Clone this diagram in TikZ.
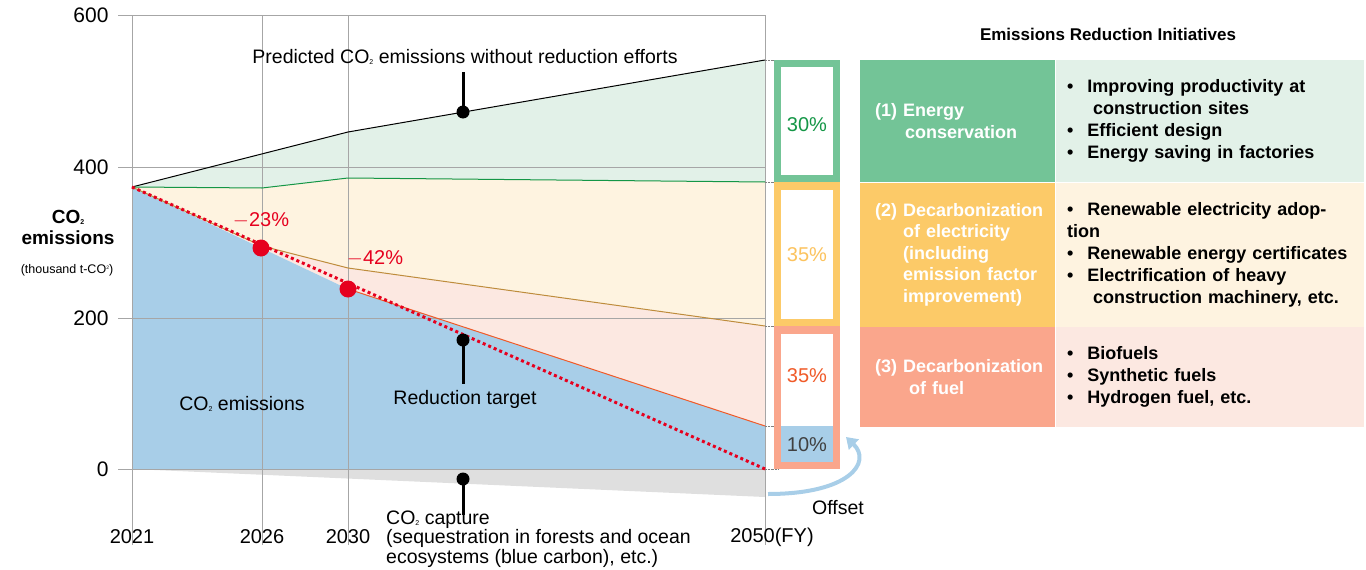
\documentclass[tikz,border=0pt]{standalone}
\usepackage{fontspec}
\setmainfont{Liberation Sans}
\usetikzlibrary{arrows.meta, positioning, calc}
\definecolor{kgreen}{RGB}{115,196,151}
\definecolor{kgreenlt}{RGB}{226,241,232}
\definecolor{kyellow}{RGB}{252,202,104}
\definecolor{kyellowlt}{RGB}{254,243,224}
\definecolor{korange}{RGB}{250,166,140}
\definecolor{korangelt}{RGB}{252,232,225}
\definecolor{kblue}{RGB}{168,206,232}
\definecolor{kred}{RGB}{230,0,30}
\definecolor{kline}{RGB}{240,90,40}
\definecolor{kbrown}{RGB}{190,140,60}
\definecolor{kdkgreen}{RGB}{20,150,70}
\newcommand{\cotwo}{CO\raisebox{-0.1ex}{\scriptsize 2}}

\begin{document}
\begin{tikzpicture}[x=1pt, y=-1pt,
        grid/.style={gray!70, line width=0.8pt},
        tick/.style={font=\fontsize{21}{21}\selectfont, anchor=east},
        year/.style={font=\fontsize{20}{20}\selectfont},
        label/.style={font=\fontsize{19.5}{20}\selectfont, align=center},
        pin/.style={circle, fill=black, inner sep=0pt, minimum size=13pt},
        reddot/.style={circle, fill=kred, inner sep=0pt, minimum size=17pt},
        cat/.style={rectangle, minimum width=195pt, text width=185pt, align=left,
                    text=white, font=\bfseries\fontsize{18}{21.5}\selectfont, inner sep=0pt},
        item/.style={rectangle, minimum width=308pt, text width=285pt, align=left,
                    font=\bfseries\fontsize{18}{22}\selectfont, inner sep=0pt},
        pct/.style={font=\fontsize{20}{20}\selectfont},
    ]
    \useasboundingbox (0,0) rectangle (1366,570);

    % Areas
    \fill[kgreenlt] (132,187) -- (348,132) -- (765,60) -- (765,182) -- (348,178) -- (262,188) -- cycle;
    \fill[kyellowlt] (132,187) -- (262,188) -- (348,178) -- (765,182) -- (765,326) -- (348,268) -- (262,246) -- cycle;
    \fill[korangelt] (132,187) -- (262,246) -- (348,268) -- (765,326) -- (765,426) -- (348,289) -- cycle;
    \fill[kblue] (132,187) -- (348,289) -- (765,426) -- (765,469) -- (132,469) -- cycle;
    \fill[gray!25] (132,469) -- (765,469) -- (765,497) -- cycle;

    % Grid
    \foreach \y in {15,167,318,469}
        \draw[grid] (118,\y) -- (765,\y);
    \foreach \x in {132,262,348,765}
        \draw[grid] (\x,15) -- (\x,545);
    \node[tick] (t600) at (112,15) {600};
    \node[tick] (t400) at (112,167) {400};
    \node[tick] (t200) at (112,318) {200};
    \node[tick] (t0) at (112,469) {0};
    \node[year] (y2021) at (132,537) {2021};
    \node[year] (y2026) at (262,537) {2026};
    \node[year] (y2030) at (348,537) {2030};
    \node[year] (y2050) at (772,537) {2050(FY)};

    % Lines
    \draw[black, line width=1pt] (132,187) -- (348,132) -- (765,60);
    \draw[kdkgreen, line width=1pt] (132,187) -- (262,188) -- (348,178) -- (765,182);
    \draw[kbrown, line width=1pt] (132,187) -- (262,246) -- (348,268) -- (765,326);
    \draw[kline, line width=1pt] (348,289) -- (765,426);
    \draw[kred, line width=3pt, dash pattern=on 3pt off 3pt] (132,187) -- (765,469);
    \foreach \y in {60,182,326,426,469}
        \draw[gray, densely dotted] (765,\y) -- (778,\y);

    % Axis title
    \node[font=\bfseries\fontsize{19}{21}\selectfont, align=center] (ytitle) at (68,227) {\cotwo\\emissions};
    \node[font=\fontsize{12.5}{14}\selectfont] (yunit) at (67,270) {(thousand t-CO\raisebox{0.6ex}{\tiny 2})};

    % Reduction points
    \node[reddot] (p2026) at (261,248) {};
    \node[reddot] (p2030) at (348,289) {};
    \node[text=kred, font=\fontsize{20}{20}\selectfont, above=8pt of p2026] (r23) {$-$23\%};
    \node[text=kred, font=\fontsize{20}{20}\selectfont] (r42) at (375,258) {$-$42\%};

    % Annotations
    \node[label] (predicted) at (465,57) {Predicted \cotwo{} emissions without reduction efforts};
    \node[pin] (pinpred) at (463,112) {};
    \draw[line width=3pt] (pinpred.center) -- (463,72);
    \node[label] (target) at (465,399) {Reduction target};
    \node[pin] (pintarget) at (463,340) {};
    \draw[line width=3pt] (pintarget.center) -- (463,384);
    \node[label] (emis) at (242,404) {\cotwo{} emissions};
    \node[pin] (pincapture) at (463,479) {};
    \draw[line width=3pt] (pincapture.center) -- (463,515);
    \node[label, font=\fontsize{19.5}{15}\selectfont, align=left, anchor=north west, inner sep=0pt] (capture) at (386,511)
        {\cotwo{} capture\\(sequestration in forests and ocean\\ecosystems (blue carbon), etc.)};

    % Share bar
    \fill[kgreen] (774,60) rectangle (840,182);
    \fill[white] (781,67) rectangle (833,175);
    \node[pct, text=kdkgreen] (s30) at (807,125) {30\%};
    \fill[kyellow] (774,182) rectangle (840,326);
    \fill[white] (781,190) rectangle (833,319);
    \node[pct, text=kyellow!90!orange] (s35a) at (807,255) {35\%};
    \fill[korange] (774,326) rectangle (840,469);
    \fill[white] (781,334) rectangle (833,426);
    \fill[kblue] (781,426) rectangle (833,462);
    \node[pct, text=kline] (s35b) at (807,376) {35\%};
    \node[pct, text=black!75] (s10) at (807,445) {10\%};
    \coordinate (offsetstart) at (768,494);
    \coordinate (offsetend) at (846,437);
    \draw[kblue, line width=4pt, -{Triangle[length=11pt, width=14pt]}] (offsetstart) .. controls (850,494) and (872,462) .. (offsetend);
    \node[label] (offset) at (838,508) {Offset};

    % Initiatives table
    \node[font=\bfseries\fontsize{17}{18}\selectfont] (title) at (1108,34) {Emissions Reduction Initiatives};
    \node[cat, fill=kgreen, minimum height=122pt, anchor=north west] (c1) at (860,60)
        {\hspace*{10pt}(1) Energy\\\hspace*{40pt}conservation};
    \node[item, fill=kgreenlt, minimum height=122pt, right=0pt of c1] (i1)
        {\textbullet\hspace{14pt}Improving productivity at\\\hspace*{26pt}construction sites\\\textbullet\hspace{14pt}Efficient design\\\textbullet\hspace{14pt}Energy saving in factories};
    \node[cat, fill=kyellow, minimum height=144pt, below=0pt of c1] (c2)
        {\hspace*{10pt}(2) Decarbonization\\\hspace*{38pt}of electricity\\\hspace*{38pt}(including\\\hspace*{38pt}emission factor\\\hspace*{38pt}improvement)};
    \node[item, fill=kyellowlt, minimum height=144pt, right=0pt of c2] (i2)
        {\textbullet\hspace{14pt}Renewable electricity adoption\\\textbullet\hspace{14pt}Renewable energy certificates\\\textbullet\hspace{14pt}Electrification of heavy\\\hspace*{26pt}construction machinery, etc.};
    \node[cat, fill=korange, minimum height=100pt, below=0pt of c2] (c3)
        {\hspace*{10pt}(3) Decarbonization\\\hspace*{44pt}of fuel};
    \node[item, fill=korangelt, minimum height=100pt, right=0pt of c3] (i3)
        {\textbullet\hspace{14pt}Biofuels\\\textbullet\hspace{14pt}Synthetic fuels\\\textbullet\hspace{14pt}Hydrogen fuel, etc.};
\end{tikzpicture}
\end{document}
